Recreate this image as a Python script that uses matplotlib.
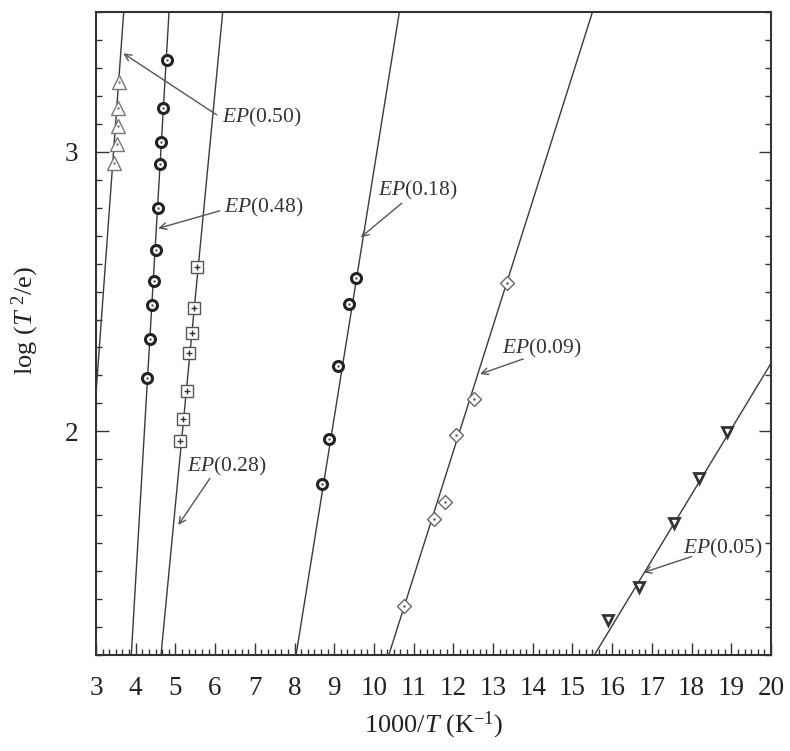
import numpy as np
import matplotlib
matplotlib.use("Agg")
import matplotlib.pyplot as plt
from matplotlib.ticker import MultipleLocator, FixedLocator

plt.rcParams['font.family'] = ['Liberation Serif', 'DejaVu Serif']
plt.rcParams['mathtext.fontset'] = 'custom'
plt.rcParams['mathtext.rm'] = 'Liberation Serif'
plt.rcParams['mathtext.it'] = 'Liberation Serif:italic'

# data: x = 1000/T, y = log(T^2/e)
x_050 = [3.587, 3.562, 3.547, 3.521, 3.461]
y_050 = [3.251, 3.156, 3.092, 3.028, 2.959]

x_048 = [4.788, 4.695, 4.637, 4.612, 4.554, 4.504, 4.461, 4.418, 4.360, 4.292]
y_048 = [3.328, 3.156, 3.036, 2.955, 2.798, 2.649, 2.538, 2.451, 2.330, 2.190]

x_028 = [5.552, 5.476, 5.426, 5.343, 5.285, 5.199, 5.116]
y_028 = [2.587, 2.442, 2.353, 2.281, 2.143, 2.043, 1.966]

x_018 = [9.549, 9.365, 9.103, 8.861, 8.700]
y_018 = [2.550, 2.455, 2.234, 1.972, 1.811]

x_009 = [13.345, 12.521, 12.068, 11.791, 11.514, 10.766]
y_009 = [2.532, 2.115, 1.987, 1.749, 1.686, 1.376]

x_005 = [18.887, 18.176, 17.567, 16.678, 15.904]
y_005 = [1.999, 1.834, 1.671, 1.445, 1.325]

# fitted lines y = a + b*x
line_names = ['0.50', '0.48', '0.28', '0.18', '0.09', '0.05']
line_a = [-3.733, -8.215, -5.663, -5.906, -3.452, -2.447]
line_b = [1.956, 2.421, 1.480, 0.884, 0.4484, 0.2345]

# labels: text position, arrow tail, arrow tip
lab_text = [(6.17, 3.121), (6.23, 2.799), (5.285, 1.874), (10.10, 2.863), (13.22, 2.297), (17.79, 1.582)]
lab_tail = [(6.04, 3.132), (6.12, 2.789), (5.87, 1.832), (10.70, 2.816), (13.76, 2.259), (18.00, 1.552)]
lab_tip = [(3.688, 3.352), (4.569, 2.726), (5.073, 1.665), (9.668, 2.694), (12.673, 2.205), (16.786, 1.495)]

fig = plt.figure(figsize=(7.9, 7.51), dpi=100)
ax = fig.add_axes([96/790, 1-655/751, (771-96)/790, (655-12)/751])

lc = '#3a3a3a'
for a, b in zip(line_a, line_b):
    ax.axline((0, a), slope=b, color=lc, lw=1.0, zorder=2)

ax.plot(x_050, y_050, ls='none', marker='^', ms=9.5, mfc='white', mec='#777777', mew=1.0, zorder=3)
ax.plot(x_050, y_050, ls='none', marker='.', ms=1.5, color='#777777', zorder=4)

ax.plot(x_048, y_048, ls='none', marker='o', ms=7.2, mfc='white', mec='#222222', mew=2.2, zorder=3)
ax.plot(x_048, y_048, ls='none', marker='.', ms=1.5, color='#555555', zorder=4)

ax.plot(x_028, y_028, ls='none', marker='s', ms=8, mfc='white', mec='#555555', mew=1.0, zorder=3)
ax.plot(x_028, y_028, ls='none', marker='+', ms=4, color='#333333', mew=1.0, zorder=4)

ax.plot(x_018, y_018, ls='none', marker='o', ms=7.2, mfc='white', mec='#222222', mew=2.2, zorder=3)
ax.plot(x_018, y_018, ls='none', marker='.', ms=1.5, color='#555555', zorder=4)

ax.plot(x_009, y_009, ls='none', marker='D', ms=7.5, mfc='white', mec='#666666', mew=1.0, zorder=3)
ax.plot(x_009, y_009, ls='none', marker='.', ms=1.5, color='#555555', zorder=4)

ax.plot(x_005, y_005, ls='none', marker='v', ms=7.5, mfc='white', mec='#333333', mew=2.0, zorder=3)

for name, t, tail, tip in zip(line_names, lab_text, lab_tail, lab_tip):
    ax.text(t[0], t[1], r'$\mathit{EP}$(' + name + ')', fontsize=15.5, color='#333333',
            ha='left', va='center', zorder=5)
    ax.annotate('', xy=tip, xytext=tail,
                arrowprops=dict(arrowstyle='->', color='#555555', lw=1.0,
                                shrinkA=0, shrinkB=0, mutation_scale=12))

ax.set_xlim(3, 20)
ax.set_ylim(1.2, 3.5)
ax.xaxis.set_major_locator(MultipleLocator(1))
ax.xaxis.set_minor_locator(MultipleLocator(1/6))
ax.yaxis.set_major_locator(FixedLocator([2, 3]))
ax.yaxis.set_minor_locator(MultipleLocator(0.1))

ax.tick_params(which='both', direction='in', top=False, right=True, left=True, bottom=True,
               colors='#333333', labelcolor='#222222', labelsize=19.5)
ax.tick_params(which='major', length=9, width=1.0)
ax.tick_params(which='minor', length=4.5, width=1.0)
ax.tick_params(axis='x', pad=15)
ax.tick_params(axis='y', pad=13)

for s in ax.spines.values():
    s.set_color('#333333')
    s.set_linewidth(1.5)

ax.set_xlabel(r'1000/$\mathit{T}$ (K$^{-1}$)', fontsize=19, color='#222222', labelpad=6)
ax.set_ylabel(r'log ($\mathit{T}$ $^{2}$/e)', fontsize=19, color='#222222')
ax.yaxis.set_label_coords(-0.082, 0.52)

fig.savefig('out.png', dpi=100)
